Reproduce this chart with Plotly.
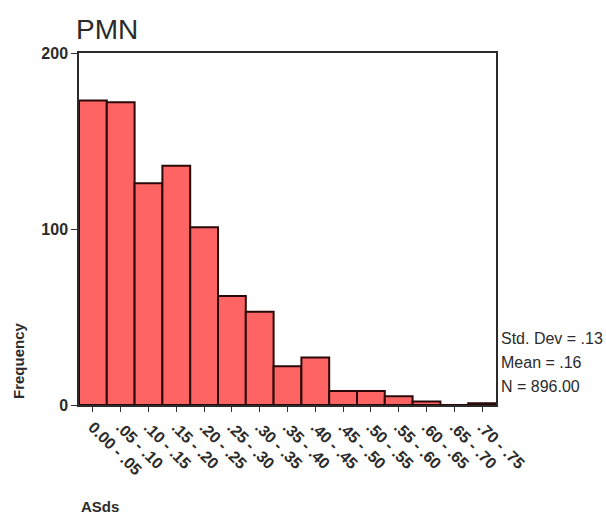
import plotly.graph_objects as go

bin_labels = ["0.00 - .05", ".05 - .10", ".10 - .15", ".15 - .20", ".20 - .25",
              ".25 - .30", ".30 - .35", ".35 - .40", ".40 - .45", ".45 - .50",
              ".50 - .55", ".55 - .60", ".60 - .65", ".65 - .70", ".70 - .75"]
bin_centers = [0.025 + 0.05 * i for i in range(15)]
frequency = [173, 172, 126, 136, 101, 62, 53, 22, 27, 8, 8, 5, 2, 0, 1]
stats_lines = ["Std. Dev = .13", "Mean = .16", "N = 896.00"]

font = "Liberation Sans, Arial, sans-serif"
fig = go.Figure()
fig.add_trace(go.Bar(
    x=bin_centers, y=frequency, width=0.05,
    marker=dict(color="#FF6464", line=dict(color="#2a0808", width=2)),
))

fig.update_layout(
    width=606, height=522,
    margin=dict(l=79, r=110, t=53, b=117),
    paper_bgcolor="white", plot_bgcolor="white",
    showlegend=False,
    font=dict(family=font, color="#2b2b2b"),
    title=dict(text="PMN", x=76/606, xanchor="left", y=1 - 29/522, yanchor="middle",
               font=dict(size=28, family=font, color="#2b2b2b")),
    xaxis=dict(range=[0, 0.75], tickvals=bin_centers,
               ticktext=["<b>%s</b>" % t for t in bin_labels],
               tickangle=45, ticks="outside", ticklen=5, tickcolor="#333",
               showline=True, linecolor="#2b2b2b", linewidth=1.5, mirror=True,
               showgrid=False, zeroline=False,
               tickfont=dict(size=16, family=font, color="#2b2b2b")),
    yaxis=dict(range=[0, 200], tickvals=[0, 100, 200],
               ticktext=["<b>0</b>", "<b>100</b>", "<b>200</b>"],
               ticks="outside", ticklen=6,
               tickcolor="#333", showline=True, linecolor="#2b2b2b", linewidth=1.5,
               mirror=True, showgrid=False, zeroline=False,
               tickfont=dict(size=16, family=font, color="#2b2b2b")),
)

fig.add_annotation(text="<b>Frequency</b>", textangle=-90, xref="paper", yref="paper",
                   x=(18 - 79) / 417, y=(405 - 361) / 352, xanchor="center", yanchor="middle",
                   showarrow=False, font=dict(size=15, family=font, color="#2b2b2b"))
fig.add_annotation(text="<b>ASds</b>", xref="paper", yref="paper",
                   x=0, y=-(506 - 405) / 352, xanchor="left", yanchor="middle",
                   showarrow=False, font=dict(size=15, family=font, color="#2b2b2b"))
for i, s in enumerate(stats_lines):
    fig.add_annotation(text=s, xref="paper", yref="paper",
                       x=(499 - 79) / 417, y=(405 - (338 + 24 * i)) / 352,
                       xanchor="left", yanchor="middle", showarrow=False,
                       font=dict(size=16, family=font, color="#2b2b2b"))

fig.write_html("out.html")
